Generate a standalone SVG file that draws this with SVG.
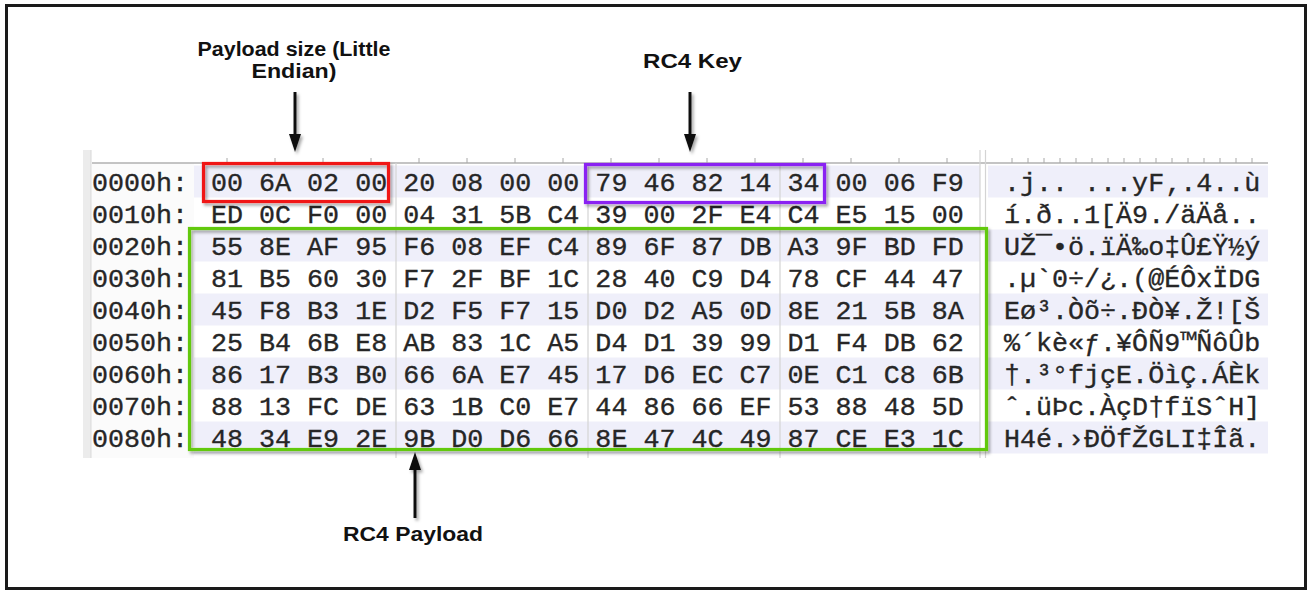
<svg xmlns="http://www.w3.org/2000/svg" width="1308" height="591" viewBox="0 0 1308 591">
<style>
.mono{font-family:"Liberation Mono","Courier New",monospace;font-size:26.7px;fill:#262626;stroke:#262626;stroke-width:0.35;white-space:pre}
.lbl{font-family:"Liberation Sans",Arial,sans-serif;font-weight:bold;font-size:19.5px;fill:#111;text-anchor:middle}
.alt{fill:#efeffa}
.sep{stroke:#d4d4d4;stroke-width:1.2}
.tick{stroke:#a8a8a8;stroke-width:1}
.arrow{stroke:#111;stroke-width:3;fill:none}
.box{fill:none;stroke-width:3.2}
</style>
<defs>
<filter id="sh" x="-10%" y="-10%" width="130%" height="140%">
<feDropShadow dx="2" dy="2.5" stdDeviation="1.8" flood-color="#000" flood-opacity="0.35"/>
</filter>
<marker id="ah" viewBox="0 0 18 12" refX="8" refY="6" markerWidth="18" markerHeight="12" markerUnits="userSpaceOnUse" orient="auto">
<path d="M0,0 L18,6 L0,12 Z" fill="#111"/>
</marker>
</defs>
<rect x="0" y="0" width="1308" height="591" fill="#fff"/>
<rect x="6.5" y="5.5" width="1299" height="583" fill="#fff" stroke="#1a1a1a" stroke-width="3"/>

<g id="hexview">
<rect x="83" y="150" width="1187" height="308" fill="#fff"/>
<rect x="83" y="150" width="8" height="308" fill="#ececec"/>
<line x1="91" y1="150" x2="91" y2="458" stroke="#d8d8d8"/>
<rect x="92" y="163" width="102" height="295" fill="#fbfbfb"/>
<line x1="92" y1="163" x2="1268" y2="163" stroke="#b0b0b0" stroke-width="1.5"/>
<g class="tick">
<path d="M227,158V163M275,158V163M323,158V163M371,158V163M419,158V163M467,158V163M515,158V163M563,158V163M611,158V163M659,158V163M707,158V163M755,158V163M803,158V163M851,158V163M899,158V163M947,158V163"/>
<path d="M1012,158V163M1028,158V163M1044,158V163M1060,158V163M1076,158V163M1092,158V163M1108,158V163M1124,158V163M1140,158V163M1156,158V163M1172,158V163M1188,158V163M1204,158V163M1220,158V163M1236,158V163M1252,158V163"/>
</g>
<rect class="alt" x="194" y="165.5" width="786" height="32"/>
<rect class="alt" x="194" y="229.5" width="786" height="32"/>
<rect class="alt" x="194" y="293.5" width="786" height="32"/>
<rect class="alt" x="194" y="357.5" width="786" height="32"/>
<rect class="alt" x="194" y="421.5" width="786" height="32"/>
<rect class="alt" x="988" y="165.5" width="280" height="32"/>
<rect class="alt" x="988" y="229.5" width="280" height="32"/>
<rect class="alt" x="988" y="293.5" width="280" height="32"/>
<rect class="alt" x="988" y="357.5" width="280" height="32"/>
<rect class="alt" x="988" y="421.5" width="280" height="32"/>
<line class="sep" x1="396" y1="163" x2="396" y2="458"/>
<line class="sep" x1="588" y1="163" x2="588" y2="458"/>
<line class="sep" x1="780" y1="163" x2="780" y2="458"/>
<line class="sep" x1="980" y1="150" x2="980" y2="458"/>
<line class="sep" x1="985.5" y1="150" x2="985.5" y2="458"/>

<text class="mono" x="92" y="191">0000h:</text>
<text class="mono" x="92" y="223">0010h:</text>
<text class="mono" x="92" y="255">0020h:</text>
<text class="mono" x="92" y="287">0030h:</text>
<text class="mono" x="92" y="319">0040h:</text>
<text class="mono" x="92" y="351">0050h:</text>
<text class="mono" x="92" y="383">0060h:</text>
<text class="mono" x="92" y="415">0070h:</text>
<text class="mono" x="92" y="446.5">0080h:</text>

<text class="mono" x="211" y="191">00 6A 02 00 20 08 00 00 79 46 82 14 34 00 06 F9</text>
<text class="mono" x="211" y="223">ED 0C F0 00 04 31 5B C4 39 00 2F E4 C4 E5 15 00</text>
<text class="mono" x="211" y="255">55 8E AF 95 F6 08 EF C4 89 6F 87 DB A3 9F BD FD</text>
<text class="mono" x="211" y="287">81 B5 60 30 F7 2F BF 1C 28 40 C9 D4 78 CF 44 47</text>
<text class="mono" x="211" y="319">45 F8 B3 1E D2 F5 F7 15 D0 D2 A5 0D 8E 21 5B 8A</text>
<text class="mono" x="211" y="351">25 B4 6B E8 AB 83 1C A5 D4 D1 39 99 D1 F4 DB 62</text>
<text class="mono" x="211" y="383">86 17 B3 B0 66 6A E7 45 17 D6 EC C7 0E C1 C8 6B</text>
<text class="mono" x="211" y="415">88 13 FC DE 63 1B C0 E7 44 86 66 EF 53 88 48 5D</text>
<text class="mono" x="211" y="446.5">48 34 E9 2E 9B D0 D6 66 8E 47 4C 49 87 CE E3 1C</text>

<text class="mono" x="1004" y="191">.j.. ...yF‚.4..ù</text>
<text class="mono" x="1004" y="223">í.ð..1[Ä9./äÄå..</text>
<text class="mono" x="1004" y="255">UŽ¯•ö.ïÄ‰o‡Û£Ÿ½ý</text>
<text class="mono" x="1004" y="287">.µ`0÷/¿.(@ÉÔxÏDG</text>
<text class="mono" x="1004" y="319">Eø³.Òõ÷.ÐÒ¥.Ž![Š</text>
<text class="mono" x="1004" y="351">%´kè«ƒ.¥ÔÑ9™ÑôÛb</text>
<text class="mono" x="1004" y="383">†.³°fjçE.ÖìÇ.ÁÈk</text>
<text class="mono" x="1004" y="415">ˆ.üÞc.ÀçD†fïSˆH]</text>
<text class="mono" x="1004" y="446.5">H4é.›ÐÖfŽGLI‡Îã.</text>
</g>

<g id="box-payload-size" filter="url(#sh)">
<rect class="box" x="203.5" y="163.5" width="185" height="38" stroke="#f01818"/>
</g>
<g id="box-rc4-key" filter="url(#sh)">
<rect class="box" x="585.5" y="164.5" width="239" height="38" stroke="#8a22f2"/>
</g>
<g id="box-rc4-payload" filter="url(#sh)">
<rect class="box" x="189.5" y="228.5" width="797" height="221" stroke="#62c910"/>
</g>

<g id="label-payload-size">
<text class="lbl" x="294" y="56" textLength="193" lengthAdjust="spacingAndGlyphs">Payload size (Little</text>
<text class="lbl" x="294" y="78" textLength="85" lengthAdjust="spacingAndGlyphs">Endian)</text>
</g>
<g id="label-rc4-key">
<text class="lbl" x="692.5" y="68" textLength="99" lengthAdjust="spacingAndGlyphs">RC4 Key</text>
</g>
<g id="label-rc4-payload">
<text class="lbl" x="413" y="541" textLength="140" lengthAdjust="spacingAndGlyphs">RC4 Payload</text>
</g>

<g id="connectors" filter="url(#sh)">
<line class="arrow" x1="295" y1="92" x2="295" y2="142" marker-end="url(#ah)"/>
<line class="arrow" x1="690" y1="92" x2="690" y2="142" marker-end="url(#ah)"/>
<line class="arrow" x1="415" y1="518" x2="415" y2="462" marker-end="url(#ah)"/>
</g>
</svg>
